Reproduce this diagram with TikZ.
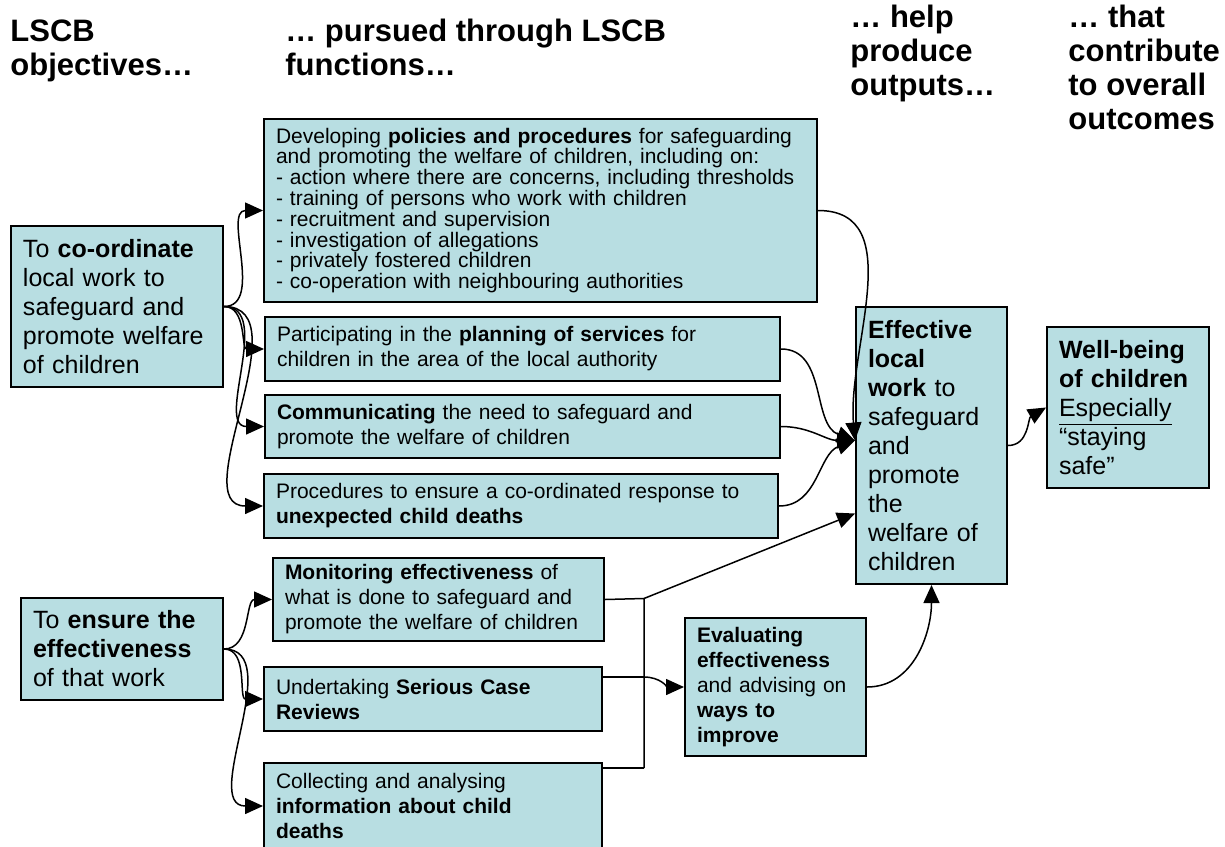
\documentclass[tikz,border=0pt]{standalone}
\usepackage{fontspec}
\setmainfont{Liberation Sans}
\usepackage{tikz}
\usetikzlibrary{arrows.meta,calc}
\definecolor{boxfill}{RGB}{184,222,226}

\begin{document}
\begin{tikzpicture}[x=0.5pt,y=-0.5pt,
    box/.style={draw, fill=boxfill, line width=1pt, anchor=north west, inner xsep=6pt, inner ysep=2pt, align=left},
    big/.style={font=\fontsize{12.5}{14.5}\selectfont},
    small/.style={font=\fontsize{10.5}{12.5}\selectfont},
    head/.style={anchor=north west, inner sep=0pt, align=left, font=\fontsize{15.5}{17}\selectfont\bfseries},
    arr/.style={line width=0.75pt, -{Triangle[length=9pt,width=8pt]}},
    link/.style={line width=0.75pt}]
  \useasboundingbox (0,0) rectangle (1225,846);

  \node (hobj) at (10,19)[head]{LSCB\\objectives…};
  \node (hfun) at (285,19)[head]{… pursued through LSCB\\functions…};
  \node (hout) at (850,5)[head]{… help\\produce\\outputs…};
  \node (hres) at (1068,5)[head]{… that\\contribute\\to overall\\outcomes};

  \node (coord) at (10,225)[box, big, text width=94pt, minimum height=80.5pt]{To \textbf{co-ordinate}\\local work to\\safeguard and\\promote welfare\\of children};
  \node (ensure) at (20,597)[box, big, text width=89pt, minimum height=51pt]{To \textbf{ensure the}\\\textbf{effectiveness}\\of that work};

  \node (policies) at (263,118)[box, font=\fontsize{10.5}{10.4}\selectfont, text width=264.5pt, minimum height=91.5pt]{Developing \textbf{policies and procedures} for safeguarding\\and promoting the welfare of children, including on:\\- action where there are concerns, including thresholds\\- training of persons who work with children\\- recruitment and supervision\\- investigation of allegations\\- privately fostered children\\- co-operation with neighbouring authorities};
  \node (planning) at (264,316)[box, small, text width=245.5pt, minimum height=32pt]{Participating in the \textbf{planning of services} for\\children in the area of the local authority};
  \node (communicating) at (264,394)[box, small, text width=245.5pt, minimum height=31.5pt]{\textbf{Communicating} the need to safeguard and\\promote the welfare of children};
  \node (procedures) at (263,473)[box, small, text width=245pt, minimum height=32pt]{Procedures to ensure a co-ordinated response to\\\textbf{unexpected child deaths}};
  \node (monitoring) at (272,557)[box, small, text width=153.5pt, minimum height=41.5pt]{\textbf{Monitoring effectiveness} of\\what is done to safeguard and\\promote the welfare of children};
  \node (serious) at (263,666)[box, small, text width=157pt, minimum height=32pt]{Undertaking \textbf{Serious Case}\\\textbf{Reviews}};
  \node (collecting) at (263,762)[box, small, text width=157pt, minimum height=43pt]{Collecting and analysing\\\textbf{information about child}\\\textbf{deaths}};

  \node (evaluating) at (684,617)[box, small, text width=78.5pt, minimum height=69pt]{\textbf{Evaluating}\\\textbf{effectiveness}\\and advising on\\\textbf{ways to}\\\textbf{improve}};
  \node (effective) at (855,306)[box, big, text width=63.5pt, minimum height=138.5pt]{\textbf{Effective}\\\textbf{local}\\\textbf{work} to\\safeguard\\and\\promote\\the\\welfare of\\children};
  \node (wellbeing) at (1046,326)[box, big, text width=69pt, minimum height=80.5pt]{\textbf{Well-being}\\\textbf{of children}\\\underline{Especially}\\“staying\\safe”};

  \foreach \t in {policies,planning,communicating,procedures}{
    \draw[arr] (coord.east) to[out=0,in=180] (\t.west);
  }
  \foreach \t in {monitoring,serious,collecting}{
    \draw[arr] (ensure.east) to[out=0,in=180] (\t.west);
  }
  \foreach \t/\a in {policies/95, planning/160, communicating/180, procedures/200}{
    \draw[arr] (\t.east) to[out=0,in=\a] ($(effective.west)+(0,-5)$);
  }

  \coordinate (b1) at (644,598.5);
  \coordinate (b2) at (644,677);
  \coordinate (b3) at (644,768);
  \draw[link] (monitoring.east) -- (b1) -- (b3);
  \draw[link] (serious.east |- b2) -- (b2);
  \draw[link] (collecting.east |- b3) -- (b3);
  \draw[arr] (b1) -- ($(effective.west)+(0,68)$);
  \draw[arr] (b2) to[out=0,in=180] (evaluating.west);
  \draw[arr] (evaluating.east) to[out=0,in=-90] (effective.south);
  \draw[arr] (effective.east) to[out=0,in=210] (wellbeing.west);
\end{tikzpicture}
\end{document}
